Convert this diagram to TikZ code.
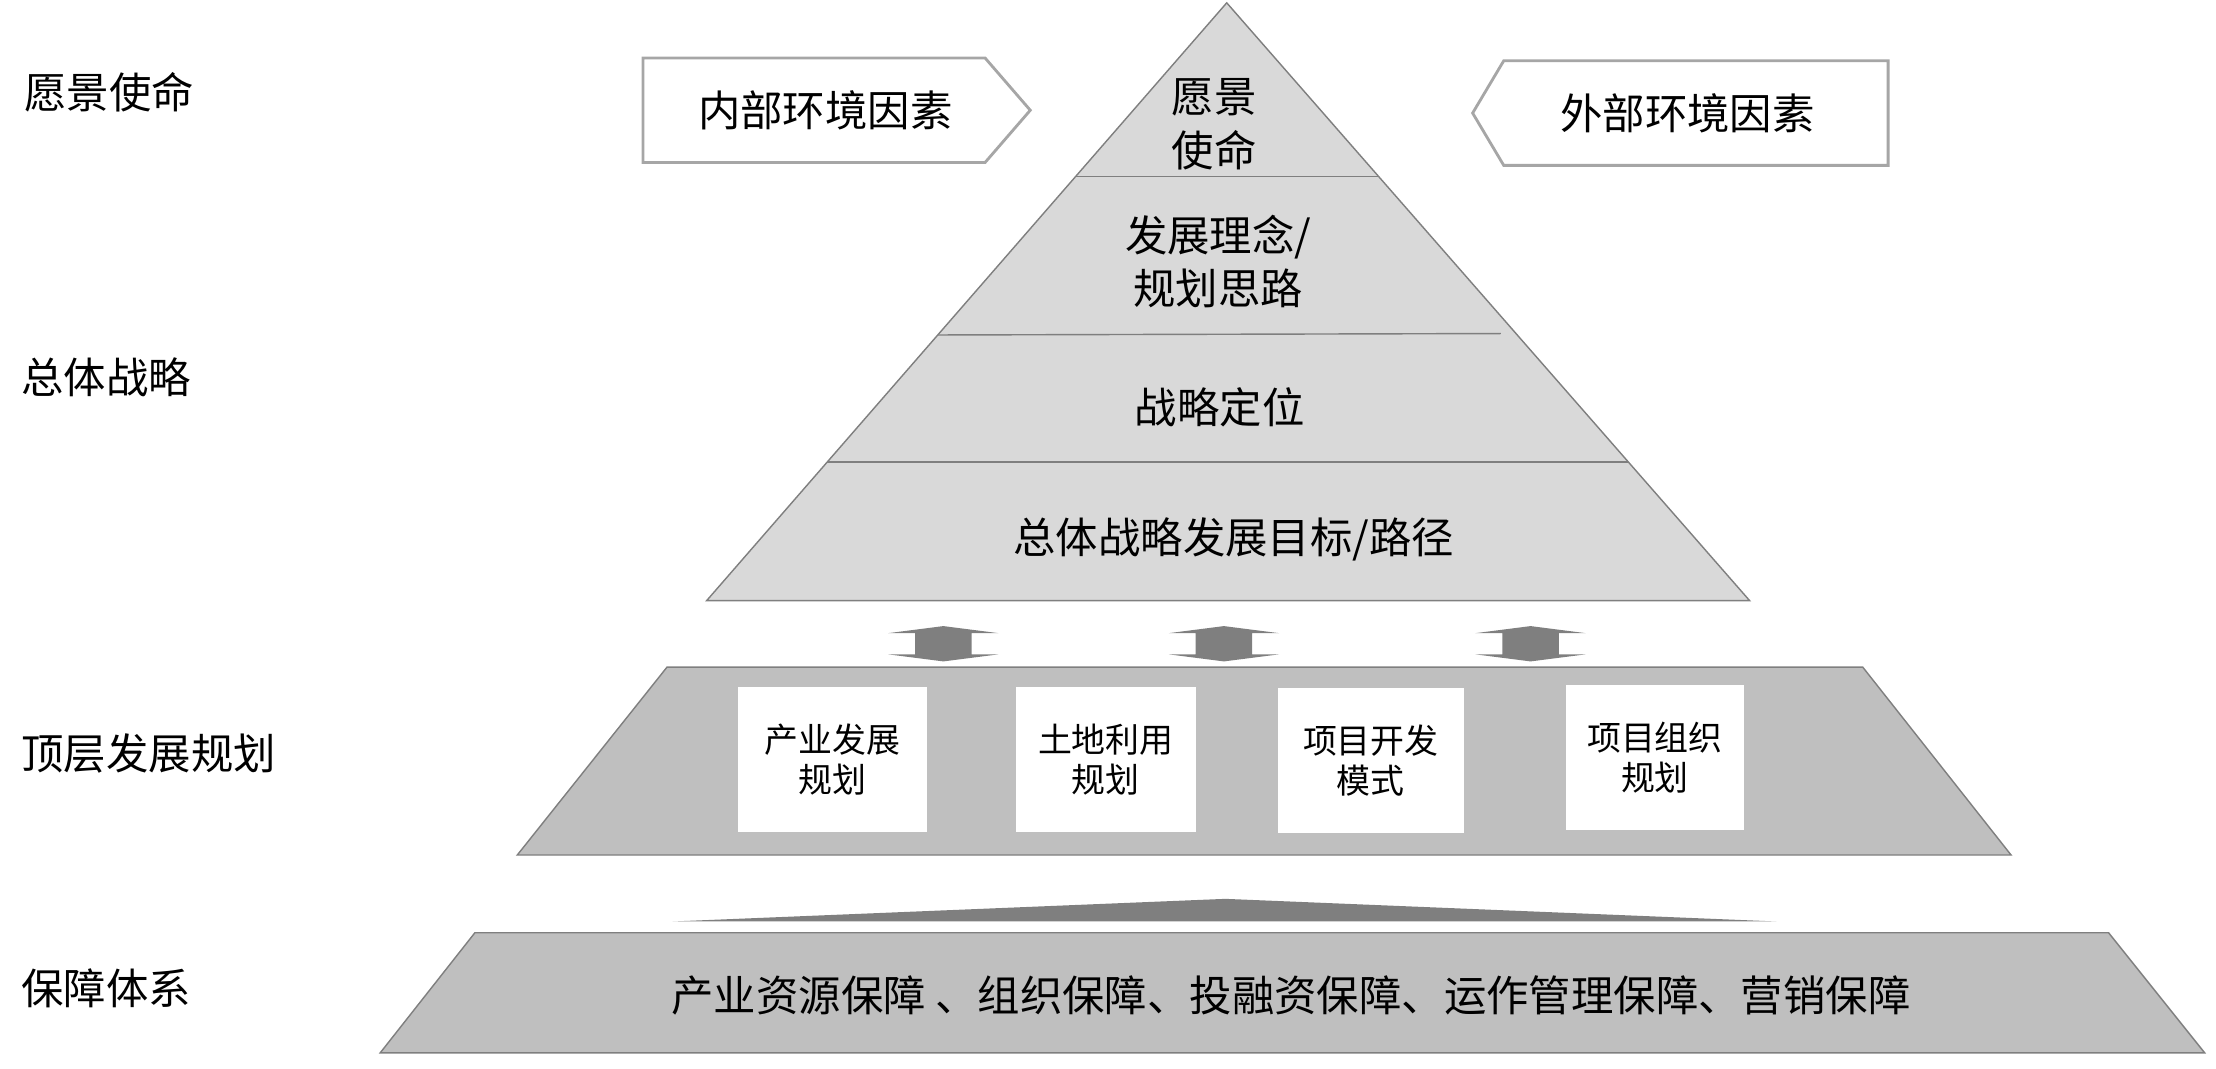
\documentclass[tikz,border=0pt]{standalone}
\usepackage{fontspec}
\setmainfont{Noto Sans CJK SC}
\usepackage{tikz}
\usetikzlibrary{calc}

\definecolor{pyrlight}{HTML}{D9D9D9}
\definecolor{pyrmid}{HTML}{BFBFBF}
\definecolor{pyrdark}{HTML}{7F7F7F}
\definecolor{envline}{HTML}{A6A6A6}

\begin{document}
\begin{tikzpicture}[x=1pt,y=-1pt,
                    big/.style={font=\fontsize{30pt}{38pt}\selectfont,inner sep=0pt,align=center},
                    small/.style={font=\fontsize{24pt}{28pt}\selectfont,inner sep=0pt,align=center},
                    side label/.style={big,anchor=west},
                    layer/.style={fill=#1,draw=pyrdark,line width=1pt},
                    env box/.style={fill=white,draw=envline,line width=2pt},
                    plan box/.style={small,fill=white,minimum height=103pt},
                    link arrow/.style={fill=pyrdark,draw=none}]
  \useasboundingbox (0,0) rectangle (1568,756);

  %left labels%
  \node[side label] (lblVision) at (17,65) {愿景使命};
  \node[side label] (lblStrategy) at (15,267) {总体战略};
  \node[side label] (lblTop) at (15,533) {顶层发展规划};
  \node[side label] (lblSupport) at (15,699) {保障体系};

  %pyramid%
  \coordinate (apex) at (868,2);
  \coordinate (bl) at (500,425);
  \coordinate (br) at (1238,425);
  \draw[layer=pyrlight] (apex) -- (br) -- (bl) -- cycle;
  \draw[draw=pyrdark,line width=1pt] ($(apex)!0.2908!(bl)$) -- ($(apex)!0.2908!(br)$);
  \draw[draw=pyrdark,line width=1pt] ($(apex)!0.5556!(bl)$) -- (1062,236);
  \draw[draw=pyrdark,line width=1pt] ($(apex)!0.7683!(bl)$) -- ($(apex)!0.7683!(br)$);

  \node[big] (vision) at (859,88) {愿景\\使命};
  \node[big] (concept) at (862,185) {发展理念/\\规划思路};
  \node[big] (position) at (863,288) {战略定位};
  \node[big] (goal) at (873,382) {总体战略发展目标/路径};

  %environment boxes%
  \draw[env box] (455,41) -- (697,41) -- (729,78) -- (697,115) -- (455,115) -- cycle;
  \node[big] (inner) at (584,78) {内部环境因素};
  \draw[env box] (1042,80) -- (1064,43) -- (1336,43) -- (1336,117) -- (1064,117) -- cycle;
  \node[big] (outer) at (1194,80) {外部环境因素};

  %double arrows%
  \foreach \cx in {667.5,866,1083}
    \fill[link arrow] (\cx,443) -- ++(39,5) -- ++(-19,0) -- ++(0,15) -- ++(19,0)
      -- (\cx,468) -- ++(-39,-5) -- ++(19,0) -- ++(0,-15) -- ++(-19,0) -- cycle;

  %top level planning%
  \draw[layer=pyrmid] (472,472) -- (1318,472) -- (1423,605) -- (366,605) -- cycle;
  \node[plan box,minimum width=134pt] (b1) at (589,537.5) {产业发展\\规划};
  \node[plan box,minimum width=127pt] (b2) at (782.5,537.5) {土地利用\\规划};
  \node[plan box,minimum width=132pt] (b3) at (970,538) {项目开发\\模式};
  \node[plan box,minimum width=126pt] (b4) at (1171,536) {项目组织\\规划};

  %support%
  \fill[pyrdark] (476,652) -- (867,636) -- (1257,652) -- cycle;
  \draw[layer=pyrmid] (336,660) -- (1492,660) -- (1560,745) -- (269,745) -- cycle;
  \node[big] (support) at (913.5,704) {产业资源保障 、组织保障、投融资保障、运作管理保障、营销保障};
\end{tikzpicture}
\end{document}
